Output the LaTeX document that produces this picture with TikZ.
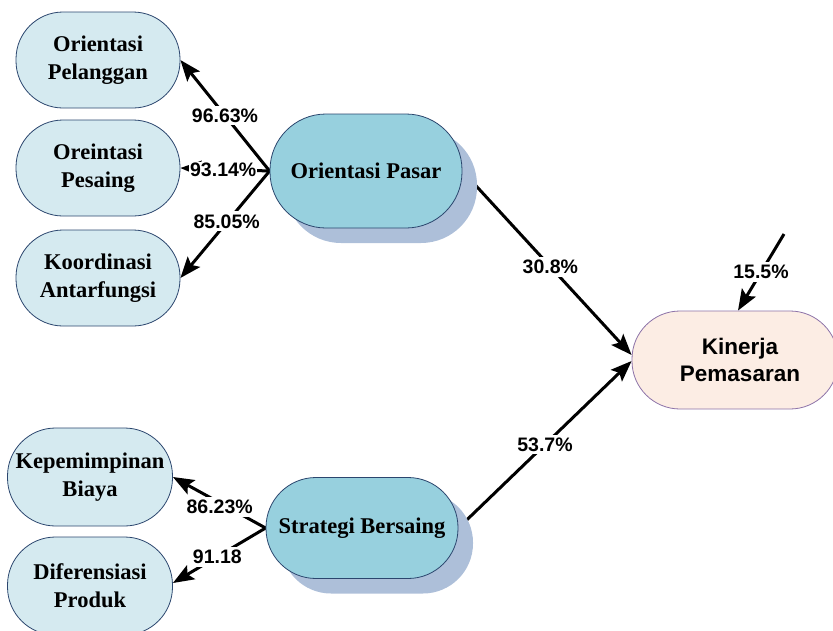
\documentclass[tikz,border=0pt]{standalone}
\usepackage{fontspec}
\setmainfont{Liberation Serif}
\newfontfamily\arialf{Liberation Sans}
\usetikzlibrary{shadows,arrows.meta,backgrounds}
\definecolor{smallfill}{RGB}{213,234,240}
\definecolor{mainfill}{RGB}{151,208,222}
\definecolor{shadowc}{RGB}{173,191,217}
\definecolor{bordc}{RGB}{43,70,110}
\definecolor{kinfill}{RGB}{252,237,228}
\definecolor{kinbord}{RGB}{140,114,168}
\begin{document}
\begin{tikzpicture}[x=1pt,y=-1pt,
  ind/.style={draw=bordc, line width=0.8pt, fill=smallfill, rectangle,
    rounded corners=47pt, minimum width=164pt, minimum height=96pt,
    align=center, inner sep=0pt, font=\fontsize{22.5}{28}\selectfont\bfseries},
  lat/.style={draw=bordc, line width=0.8pt, fill=mainfill, rectangle,
    minimum width=192pt, align=center, inner sep=0pt,
    font=\fontsize{22.5}{28}\selectfont\bfseries,
    drop shadow={shadow xshift=15pt, shadow yshift=-15pt, fill=shadowc, opacity=1, draw=none}},
  dep/.style={draw=kinbord, line width=0.8pt, fill=kinfill, rectangle,
    rounded corners=48pt, minimum width=206pt, minimum height=98pt,
    align=center, inner sep=0pt, font=\arialf\fontsize{22.5}{27}\selectfont\bfseries},
  conn/.style={line width=3pt, -{Stealth[length=21pt,width=16pt,inset=4pt]}},
  lbl/.style={fill=white, inner sep=3pt, font=\arialf\fontsize{19.5}{20}\selectfont\bfseries}
]
\useasboundingbox (0,0) rectangle (833,630);

\node[ind] (opel) at (98,60) {Orientasi\\Pelanggan};
\node[ind] (opes) at (98,168) {Oreintasi\\Pesaing};
\node[ind] (koor) at (98,278) {Koordinasi\\Antarfungsi};
\node[ind, minimum width=165pt, minimum height=98pt, rounded corners=48pt] (kep) at (90,477) {Kepemimpinan\\Biaya};
\node[ind, minimum width=165pt, minimum height=98pt, rounded corners=48pt] (dif) at (90,586) {Diferensiasi\\Produk};

\node[lat, minimum height=114pt, rounded corners=56pt] (op) at (366,171) {Orientasi Pasar};
\node[lat, minimum height=101pt, rounded corners=50pt] (sb) at (362,528) {Strategi Bersaing};

\node[dep] (kp) at (735,360) {\hspace*{10pt}Kinerja\\\hspace*{10pt}Pemasaran};
\coordinate (err) at (784,234);

\begin{scope}[on background layer]
\draw[conn] (op.west) -- node[lbl, pos=0.5] {96.63\%} (opel.east);
\draw[conn] (op.west) -- node[lbl, pos=0.52, inner sep=1pt] {93.14\%} (opes.east);
\draw[conn] (op.west) -- node[lbl, pos=0.47, xshift=-1pt] {85.05\%} (koor.east);
\draw[conn] (sb.west) -- node[lbl, pos=0.42, xshift=-7pt] {86.23\%} (kep.east);
\draw[conn] (sb.west) -- node[lbl, pos=0.52] {91.18} ([yshift=3pt]dif.east);
\draw[conn] (op.east) -- node[lbl, pos=0.52] {30.8\%} ([yshift=5pt]kp.west);
\draw[conn] (sb.east) -- node[lbl, pos=0.5] {53.7\%} ([yshift=-1pt]kp.west);
\draw[conn] (err) -- node[lbl, pos=0.5] {15.5\%} ([xshift=3pt]kp.north);
\end{scope}
\end{tikzpicture}
\end{document}
